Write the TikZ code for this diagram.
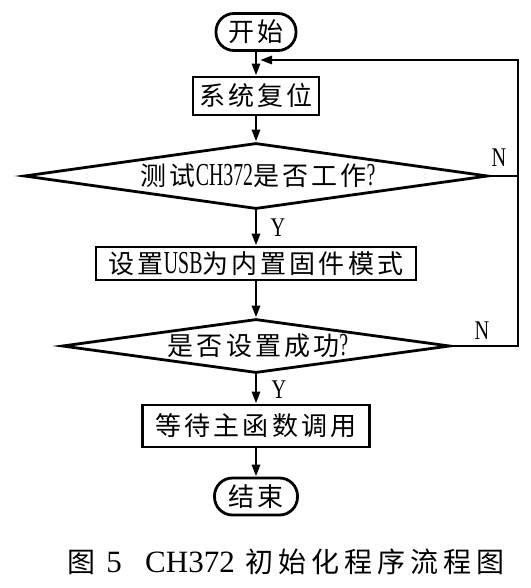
\documentclass[tikz,border=0pt]{standalone}
\usepackage{fontspec}
\setmainfont[LetterSpace=12]{Noto Sans CJK SC}
\newfontfamily\latn[FakeStretch=0.62]{Liberation Serif}
\newfontfamily\ynfont[FakeStretch=0.75]{Liberation Serif}
\newfontfamily\capzh[LetterSpace=18]{Noto Sans CJK SC}
\newfontfamily\caplat{Liberation Serif}
\newcommand\latw[1]{{\latn\fontsize{32}{32}\selectfont #1}}
\usetikzlibrary{shapes.geometric,arrows.meta}
\begin{document}
\begin{tikzpicture}[x=1pt,y=-1pt,line width=2.8pt,
 zh/.style={font=\fontsize{26}{26}\selectfont},
 boxnode/.style={draw,rectangle,inner sep=0pt,zh},
 termnode/.style={draw,rectangle,rounded corners=18pt,inner sep=0pt,zh},
 dianode/.style={draw,diamond,inner sep=0pt},
 txt/.style={inner sep=0pt,zh},
 yn/.style={inner sep=0pt,font=\ynfont\fontsize{27}{27}\selectfont},
 captext/.style={inner sep=0pt},
 arr/.style={-{Triangle[length=12pt,width=8pt]}}]
\useasboundingbox (0,0) rectangle (530,588);
\node[termnode,minimum width=80pt,minimum height=37pt] (start) at (256,32) {开始};
\node[boxnode,minimum width=126pt,minimum height=38pt] (reset) at (256,96) {系统复位};
\node[dianode,minimum width=464pt,minimum height=66pt] (d1) at (256,176) {};
\node[txt] (t1) at (258,176) {测试\latw{CH372}是否工作\latw{?}};
\node[boxnode,minimum width=320pt,minimum height=33pt] (usb) at (256,263.5) {设置\latw{USB}为内置固件模式};
\node[dianode,minimum width=388pt,minimum height=54pt] (d2) at (256,346) {};
\node[txt] (t2) at (258,346) {是否设置成功\latw{?}};
\node[boxnode,minimum width=227pt,minimum height=42pt] (wait) at (256,426) {等待主函数调用};
\node[termnode,minimum width=83pt,minimum height=37pt] (end) at (256,496.5) {结束};
\draw[arr] (start) -- (reset);
\draw[arr] (reset) -- (d1);
\draw[arr] (d1) -- (usb);
\draw[arr] (usb) -- (d2);
\draw[arr] (d2) -- (wait);
\draw[arr] (wait) -- (end);
\coordinate (rt) at (518,60);
\coordinate (jn) at (256,60);
\draw[arr,shorten >=4pt] (d2.east) -| (rt) -- (jn);
\draw (d1.east) -- (d1.east -| rt);
\node[yn] (n1) at (499,158) {N};
\node[yn] (y1) at (278,228) {Y};
\node[yn] (n2) at (482,331) {N};
\node[yn] (y2) at (279,390) {Y};
\node[captext,font=\capzh\fontsize{28}{28}\selectfont] (c1) at (81,562) {图};
\node[captext,font=\caplat\fontsize{31}{31}\selectfont] (c2) at (114,562) {5};
\node[captext,font=\caplat\fontsize{31}{31}\selectfont] (c3) at (190,562) {CH372};
\node[captext,font=\capzh\fontsize{28}{28}\selectfont] (c4) at (375,562) {初始化程序流程图};
\end{tikzpicture}
\end{document}
